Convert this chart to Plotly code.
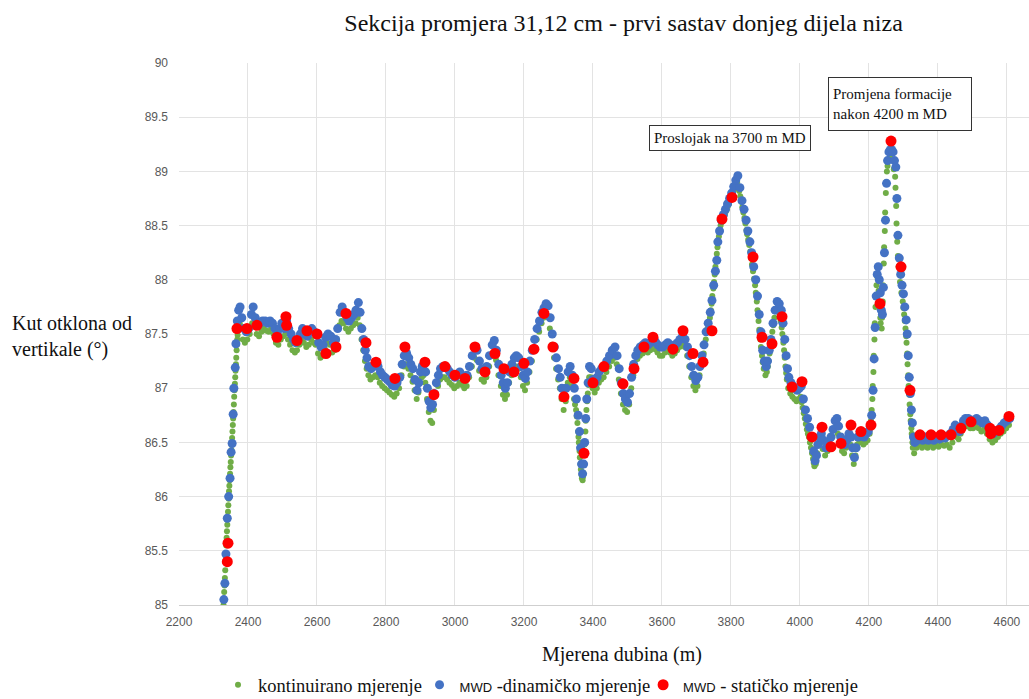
import plotly.graph_objects as go

# Continuous inclination log (depth m, inclination deg)
cont_depth = [
    2329, 2330, 2331, 2332, 2333, 2334, 2335, 2336, 2337, 2338, 2339, 2340, 2341, 2342, 2343, 2344,
    2345, 2346, 2347, 2348, 2349, 2350, 2351, 2352, 2353, 2354, 2355, 2356, 2357, 2358, 2359, 2360,
    2361, 2362, 2363, 2364, 2365, 2366, 2367, 2368, 2369, 2370, 2372, 2374, 2376, 2380, 2385, 2391,
    2398, 2405, 2412, 2418, 2425, 2432, 2439, 2446, 2453, 2460, 2467, 2474, 2481, 2488, 2495, 2502,
    2509, 2516, 2522, 2529, 2536, 2542, 2549, 2556, 2562, 2569, 2576, 2583, 2590, 2596, 2603, 2610,
    2616, 2623, 2630, 2637, 2644, 2651, 2658, 2665, 2671, 2678, 2684, 2691, 2698, 2705, 2712, 2718,
    2724, 2729, 2734, 2739, 2744, 2749, 2755, 2762, 2769, 2776, 2782, 2789, 2796, 2803, 2810, 2817,
    2824, 2831, 2838, 2845, 2852, 2858, 2865, 2871, 2877, 2883, 2889, 2894, 2899, 2904, 2909, 2914,
    2919, 2924, 2929, 2934, 2939, 2945, 2951, 2957, 2964, 2970, 2977, 2984, 2991, 2998, 3006, 3013,
    3020, 3027, 3034, 3041, 3049, 3056, 3063, 3070, 3077, 3084, 3091, 3099, 3107, 3113, 3119, 3126,
    3133, 3139, 3145, 3151, 3157, 3164, 3171, 3177, 3184, 3191, 3197, 3203, 3209, 3216, 3223, 3230,
    3237, 3244, 3251, 3257, 3263, 3269, 3275, 3281, 3287, 3293, 3299, 3304, 3309, 3315, 3321, 3327,
    3333, 3339, 3345, 3348, 3351, 3353, 3355, 3357, 3358, 3359, 3361, 3362, 3364, 3365, 3367, 3368,
    3370, 3371, 3372, 3373, 3375, 3376, 3378, 3379, 3381, 3383, 3385, 3387, 3389, 3394, 3399, 3405,
    3411, 3417, 3424, 3431, 3439, 3447, 3455, 3463, 3469, 3475, 3481, 3487, 3493, 3499, 3505, 3511,
    3517, 3523, 3529, 3536, 3544, 3551, 3559, 3566, 3573, 3580, 3587, 3594, 3601, 3609, 3616, 3623,
    3630, 3637, 3644, 3651, 3659, 3666, 3673, 3679, 3685, 3691, 3697, 3703, 3709, 3715, 3721, 3727,
    3733, 3739, 3742, 3744, 3746, 3749, 3751, 3753, 3755, 3757, 3759, 3761, 3763, 3765, 3768, 3770,
    3773, 3776, 3779, 3782, 3785, 3788, 3791, 3794, 3797, 3800, 3803, 3806, 3809, 3812, 3815, 3818,
    3821, 3824, 3827, 3830, 3833, 3836, 3839, 3842, 3845, 3847, 3850, 3853, 3856, 3858, 3861, 3864,
    3867, 3870, 3872, 3875, 3877, 3880, 3882, 3885, 3887, 3890, 3892, 3895, 3900, 3904, 3907, 3909,
    3912, 3914, 3917, 3920, 3923, 3926, 3932, 3938, 3944, 3947, 3949, 3952, 3954, 3956, 3958, 3960,
    3962, 3966, 3972, 3978, 3984, 3990, 3996, 4002, 4005, 4008, 4011, 4014, 4017, 4020, 4023, 4026,
    4029, 4032, 4035, 4038, 4040, 4042, 4046, 4050, 4055, 4060, 4066, 4073, 4080, 4088, 4094, 4100,
    4105, 4110, 4116, 4122, 4128, 4134, 4140, 4146, 4151, 4156, 4161, 4166, 4172, 4178, 4184, 4190,
    4196, 4202, 4204, 4206, 4208, 4210, 4211, 4213, 4214, 4216, 4217, 4219, 4220, 4222, 4225, 4228,
    4230, 4231, 4233, 4234, 4237, 4238, 4240, 4241, 4243, 4244, 4246, 4247, 4249, 4250, 4252, 4254,
    4256, 4260, 4264, 4268, 4272, 4276, 4277, 4279, 4280, 4282, 4284, 4286, 4290, 4294, 4298, 4300,
    4302, 4304, 4306, 4308, 4309, 4311, 4312, 4314, 4315, 4317, 4318, 4320, 4321, 4323, 4324, 4326,
    4327, 4331, 4338, 4346, 4354, 4362, 4370, 4378, 4386, 4394, 4402, 4410, 4418, 4426, 4434, 4442,
    4448, 4454, 4460, 4466, 4472, 4478, 4486, 4494, 4502, 4510, 4518, 4526, 4534, 4542, 4550, 4558,
    4566, 4574, 4582, 4590, 4598, 4606,
]
cont_incl = [
    85.00, 85.06, 85.12, 85.18, 85.25, 85.32, 85.40, 85.47, 85.55, 85.62, 85.68, 85.74, 85.80, 85.86, 85.92, 85.98,
    86.05, 86.10, 86.15, 86.21, 86.27, 86.32, 86.38, 86.43, 86.48, 86.54, 86.60, 86.66, 86.72, 86.78, 86.85, 86.92,
    86.98, 87.04, 87.10, 87.16, 87.22, 87.28, 87.35, 87.40, 87.45, 87.49, 87.55, 87.58, 87.60, 87.55, 87.45, 87.42,
    87.45, 87.50, 87.60, 87.58, 87.50, 87.48, 87.52, 87.55, 87.53, 87.52, 87.55, 87.50, 87.42, 87.40, 87.45, 87.48,
    87.50, 87.45, 87.40, 87.35, 87.33, 87.35, 87.40, 87.45, 87.42, 87.38, 87.40, 87.45, 87.42, 87.40, 87.32, 87.28,
    87.30, 87.36, 87.42, 87.40, 87.33, 87.35, 87.45, 87.58, 87.62, 87.60, 87.55, 87.52, 87.55, 87.58, 87.60, 87.65,
    87.58, 87.45, 87.35, 87.25, 87.18, 87.12, 87.08, 87.10, 87.12, 87.10, 87.05, 87.02, 87.00, 86.98, 86.96, 86.94,
    86.92, 86.95, 87.00, 87.12, 87.20, 87.22, 87.18, 87.12, 87.06, 86.98, 86.90, 86.96, 87.05, 87.10, 87.12, 87.05,
    86.90, 86.78, 86.70, 86.68, 86.80, 86.95, 87.02, 87.08, 87.10, 87.10, 87.08, 87.05, 87.03, 87.00, 87.02, 87.05,
    87.03, 87.00, 87.02, 87.10, 87.20, 87.28, 87.26, 87.16, 87.08, 87.06, 87.10, 87.20, 87.30, 87.33, 87.26, 87.12,
    87.02, 86.94, 86.90, 86.94, 87.05, 87.12, 87.18, 87.20, 87.18, 87.10, 87.02, 86.98, 87.05, 87.15, 87.25, 87.35,
    87.45, 87.52, 87.60, 87.65, 87.68, 87.66, 87.55, 87.40, 87.28, 87.18, 87.08, 87.00, 86.90, 86.80, 86.88, 87.05,
    87.10, 87.02, 86.90, 86.85, 86.80, 86.74, 86.68, 86.60, 86.55, 86.50, 86.42, 86.36, 86.30, 86.25, 86.20, 86.17,
    86.15, 86.18, 86.22, 86.30, 86.40, 86.48, 86.60, 86.70, 86.80, 86.88, 86.95, 87.03, 87.10, 87.10, 87.00, 86.96,
    87.00, 87.05, 87.08, 87.10, 87.15, 87.20, 87.25, 87.28, 87.22, 87.08, 86.95, 86.85, 86.80, 86.78, 86.85, 87.00,
    87.12, 87.20, 87.27, 87.30, 87.32, 87.34, 87.33, 87.35, 87.38, 87.36, 87.33, 87.30, 87.30, 87.33, 87.35, 87.33,
    87.30, 87.32, 87.35, 87.38, 87.40, 87.38, 87.30, 87.20, 87.10, 87.02, 86.98, 87.02, 87.12, 87.22, 87.32, 87.45,
    87.55, 87.65, 87.72, 87.78, 87.85, 87.92, 87.98, 88.05, 88.12, 88.18, 88.24, 88.30, 88.35, 88.40, 88.45, 88.50,
    88.53, 88.56, 88.58, 88.60, 88.63, 88.65, 88.68, 88.70, 88.73, 88.75, 88.78, 88.80, 88.83, 88.86, 88.88, 88.90,
    88.86, 88.82, 88.77, 88.72, 88.67, 88.62, 88.57, 88.52, 88.46, 88.42, 88.37, 88.32, 88.26, 88.20, 88.14, 88.08,
    88.01, 87.95, 87.88, 87.80, 87.72, 87.62, 87.54, 87.45, 87.38, 87.30, 87.24, 87.18, 87.12, 87.15, 87.20, 87.25,
    87.32, 87.38, 87.45, 87.52, 87.58, 87.65, 87.72, 87.70, 87.62, 87.56, 87.50, 87.42, 87.35, 87.28, 87.20, 87.14,
    87.08, 87.00, 86.95, 86.92, 86.90, 86.88, 86.90, 86.92, 86.87, 86.82, 86.77, 86.72, 86.67, 86.62, 86.58, 86.55,
    86.50, 86.45, 86.40, 86.35, 86.31, 86.28, 86.30, 86.40, 86.48, 86.50, 86.44, 86.38, 86.42, 86.48, 86.55, 86.62,
    86.65, 86.58, 86.48, 86.42, 86.40, 86.45, 86.50, 86.48, 86.38, 86.30, 86.38, 86.48, 86.52, 86.50, 86.48, 86.50,
    86.52, 86.58, 86.63, 86.70, 86.80, 86.90, 87.02, 87.15, 87.30, 87.45, 87.60, 87.75, 87.85, 87.95, 88.02, 87.90,
    87.80, 87.75, 87.65, 87.60, 87.55, 87.65, 87.80, 87.95, 88.15, 88.30, 88.45, 88.62, 88.80, 88.90, 89.00, 89.05,
    89.10, 89.12, 89.12, 89.10, 89.02, 88.95, 88.85, 88.68, 88.52, 88.35, 88.22, 88.12, 87.98, 87.88, 87.80, 87.74,
    87.68, 87.62, 87.55, 87.48, 87.42, 87.32, 87.22, 87.12, 87.02, 86.94, 86.85, 86.76, 86.70, 86.63, 86.58, 86.50,
    86.45, 86.40, 86.45, 86.48, 86.45, 86.48, 86.45, 86.48, 86.45, 86.48, 86.46, 86.48, 86.47, 86.48, 86.45, 86.50,
    86.58, 86.55, 86.53, 86.58, 86.63, 86.65, 86.65, 86.63, 86.63, 86.65, 86.63, 86.60, 86.62, 86.58, 86.53, 86.50,
    86.52, 86.55, 86.58, 86.60, 86.63, 86.66,
]

# MWD dynamic (while drilling) survey
dyn_depth = [
    2330, 2333, 2336, 2340, 2344, 2348, 2351, 2354, 2357, 2359, 2363, 2365, 2369, 2373, 2377, 2382,
    2388, 2395, 2402, 2410, 2415, 2421, 2428, 2435, 2442, 2450, 2457, 2464, 2471, 2478, 2485, 2492,
    2498, 2505, 2512, 2518, 2525, 2532, 2538, 2545, 2552, 2558, 2565, 2572, 2578, 2585, 2592, 2598,
    2605, 2612, 2618, 2625, 2632, 2640, 2647, 2654, 2660, 2667, 2673, 2680, 2687, 2693, 2700, 2707,
    2713, 2720, 2725, 2730, 2735, 2740, 2745, 2750, 2757, 2763, 2770, 2777, 2784, 2790, 2797, 2804,
    2811, 2818, 2825, 2832, 2840, 2847, 2853, 2860, 2866, 2872, 2878, 2884, 2890, 2895, 2900, 2905,
    2910, 2915, 2920, 2925, 2930, 2935, 2940, 2946, 2952, 2958, 2965, 2971, 2978, 2985, 2992, 3000,
    3007, 3014, 3021, 3028, 3035, 3042, 3050, 3057, 3064, 3071, 3078, 3085, 3092, 3100, 3108, 3114,
    3120, 3127, 3134, 3140, 3146, 3152, 3158, 3165, 3172, 3178, 3185, 3192, 3198, 3204, 3210, 3217,
    3224, 3231, 3238, 3245, 3252, 3258, 3264, 3270, 3276, 3282, 3288, 3294, 3300, 3305, 3310, 3316,
    3322, 3328, 3334, 3340, 3346, 3352, 3357, 3361, 3364, 3367, 3370, 3373, 3376, 3379, 3382, 3386,
    3390, 3395, 3400, 3406, 3412, 3418, 3425, 3432, 3440, 3448, 3456, 3464, 3470, 3476, 3482, 3488,
    3494, 3500, 3506, 3512, 3518, 3524, 3530, 3537, 3545, 3552, 3560, 3567, 3574, 3581, 3588, 3595,
    3602, 3610, 3617, 3624, 3631, 3638, 3645, 3652, 3660, 3667, 3674, 3680, 3686, 3692, 3698, 3704,
    3710, 3716, 3722, 3728, 3734, 3740, 3745, 3750, 3755, 3759, 3762, 3767, 3772, 3778, 3784, 3790,
    3796, 3802, 3808, 3814, 3820, 3826, 3832, 3838, 3844, 3849, 3855, 3860, 3866, 3872, 3877, 3882,
    3887, 3892, 3897, 3902, 3906, 3911, 3916, 3922, 3928, 3934, 3940, 3946, 3951, 3956, 3960, 3964,
    3968, 3974, 3980, 3986, 3992, 3998, 4004, 4010, 4016, 4022, 4028, 4034, 4040, 4044, 4048, 4052,
    4057, 4062, 4068, 4075, 4082, 4090, 4096, 4102, 4107, 4112, 4118, 4124, 4130, 4136, 4142, 4148,
    4153, 4158, 4163, 4168, 4174, 4180, 4186, 4192, 4198, 4204, 4208, 4212, 4215, 4218, 4221, 4224,
    4227, 4230, 4233, 4236, 4239, 4242, 4245, 4248, 4251, 4254, 4258, 4262, 4266, 4270, 4274, 4278,
    4281, 4284, 4288, 4292, 4296, 4300, 4304, 4308, 4311, 4314, 4317, 4320, 4323, 4326, 4329, 4333,
    4340, 4348, 4356, 4364, 4372, 4380, 4388, 4396, 4404, 4412, 4420, 4428, 4436, 4444, 4450, 4456,
    4462, 4468, 4474, 4480, 4488, 4496, 4504, 4512, 4520, 4528, 4536, 4544, 4552, 4560, 4568, 4576,
    4584, 4592, 4600, 4608,
]
dyn_incl = [
    85.05, 85.20, 85.47, 85.80, 86.00, 86.17, 86.41, 86.49, 86.76, 87.00, 87.19, 87.41, 87.62, 87.72, 87.75, 87.65,
    87.55, 87.52, 87.55, 87.68, 87.75, 87.65, 87.58, 87.60, 87.62, 87.62, 87.60, 87.62, 87.60, 87.55, 87.50, 87.55,
    87.60, 87.55, 87.62, 87.55, 87.50, 87.45, 87.42, 87.45, 87.50, 87.55, 87.50, 87.48, 87.52, 87.55, 87.52, 87.50,
    87.42, 87.38, 87.40, 87.47, 87.50, 87.48, 87.42, 87.45, 87.55, 87.70, 87.75, 87.70, 87.65, 87.62, 87.65, 87.68,
    87.72, 87.79, 87.70, 87.55, 87.45, 87.35, 87.28, 87.20, 87.18, 87.20, 87.22, 87.20, 87.15, 87.12, 87.10, 87.08,
    87.06, 87.03, 87.02, 87.05, 87.10, 87.22, 87.30, 87.32, 87.28, 87.22, 87.18, 87.08, 86.98, 87.05, 87.15, 87.20,
    87.22, 87.15, 87.00, 86.88, 86.82, 86.85, 86.95, 87.05, 87.12, 87.18, 87.20, 87.20, 87.18, 87.15, 87.12, 87.10,
    87.12, 87.15, 87.12, 87.10, 87.12, 87.20, 87.30, 87.38, 87.35, 87.25, 87.18, 87.15, 87.20, 87.30, 87.40, 87.44,
    87.35, 87.22, 87.12, 87.05, 87.00, 87.05, 87.15, 87.22, 87.28, 87.30, 87.28, 87.20, 87.12, 87.09, 87.15, 87.25,
    87.35, 87.45, 87.55, 87.62, 87.70, 87.74, 87.78, 87.76, 87.65, 87.50, 87.38, 87.28, 87.18, 87.10, 87.00, 86.92,
    87.00, 87.15, 87.20, 87.12, 87.00, 86.90, 86.75, 86.60, 86.45, 86.30, 86.21, 86.30, 86.50, 86.72, 86.90, 87.05,
    87.20, 87.18, 87.08, 87.05, 87.10, 87.15, 87.18, 87.20, 87.25, 87.30, 87.35, 87.38, 87.30, 87.18, 87.05, 86.95,
    86.90, 86.87, 86.95, 87.10, 87.22, 87.30, 87.35, 87.38, 87.40, 87.42, 87.40, 87.42, 87.45, 87.43, 87.40, 87.38,
    87.38, 87.40, 87.42, 87.40, 87.38, 87.40, 87.42, 87.45, 87.48, 87.45, 87.38, 87.30, 87.20, 87.12, 87.07, 87.10,
    87.20, 87.30, 87.40, 87.52, 87.60, 87.70, 87.81, 87.95, 88.08, 88.18, 88.35, 88.45, 88.55, 88.60, 88.65, 88.70,
    88.75, 88.80, 88.86, 88.92, 88.96, 88.85, 88.73, 88.65, 88.55, 88.45, 88.35, 88.25, 88.12, 88.00, 87.85, 87.68,
    87.52, 87.35, 87.25, 87.20, 87.25, 87.35, 87.45, 87.60, 87.72, 87.80, 87.78, 87.72, 87.60, 87.45, 87.30, 87.18,
    87.10, 87.05, 87.02, 87.00, 86.98, 87.00, 87.02, 86.90, 86.80, 86.72, 86.64, 86.55, 86.42, 86.33, 86.38, 86.48,
    86.55, 86.58, 86.52, 86.45, 86.50, 86.55, 86.62, 86.70, 86.72, 86.65, 86.55, 86.50, 86.48, 86.52, 86.58, 86.55,
    86.45, 86.36, 86.45, 86.55, 86.60, 86.58, 86.55, 86.58, 86.60, 86.65, 86.75, 86.98, 87.27, 87.56, 87.85, 88.05,
    88.12, 88.00, 87.88, 87.72, 87.68, 87.93, 88.25, 88.55, 88.89, 89.10, 89.18, 89.20, 89.20, 89.18, 89.10, 89.04,
    88.75, 88.41, 88.20, 88.05, 87.95, 87.87, 87.75, 87.63, 87.50, 87.30, 87.10, 86.95, 86.80, 86.68, 86.55, 86.50,
    86.52, 86.55, 86.52, 86.55, 86.52, 86.55, 86.52, 86.55, 86.53, 86.55, 86.54, 86.56, 86.58, 86.62, 86.66, 86.62,
    86.60, 86.65, 86.70, 86.72, 86.72, 86.70, 86.70, 86.72, 86.70, 86.68, 86.70, 86.66, 86.60, 86.58, 86.60, 86.62,
    86.65, 86.68, 86.70, 86.72,
]

# MWD static (stationary) survey
stat_depth = [
    2340, 2342, 2368, 2397, 2426, 2484, 2510, 2512, 2542, 2571, 2600, 2626, 2655, 2684, 2742, 2771,
    2826, 2855, 2913, 2939, 2971, 3000, 3029, 3058, 3087, 3116, 3142, 3171, 3200, 3229, 3258, 3284,
    3316, 3345, 3374, 3400, 3432, 3487, 3519, 3548, 3574, 3632, 3661, 3690, 3719, 3745, 3774, 3803,
    3864, 3890, 3919, 3948, 3977, 4006, 4035, 4064, 4090, 4119, 4148, 4177, 4206, 4232, 4264, 4293,
    4319, 4348, 4380, 4409, 4438, 4467, 4496, 4551, 4553, 4577, 4606,
]
stat_incl = [
    85.40, 85.57, 87.55, 87.55, 87.58, 87.47, 87.66, 87.58, 87.44, 87.53, 87.50, 87.32, 87.38, 87.69, 87.42, 87.24,
    87.09, 87.38, 87.24, 86.94, 87.20, 87.12, 87.09, 87.38, 87.15, 87.32, 87.18, 87.15, 87.23, 87.36, 87.69, 87.38,
    86.92, 87.09, 86.40, 87.05, 87.20, 87.04, 87.18, 87.38, 87.47, 87.36, 87.53, 87.32, 87.24, 87.53, 88.56, 88.76,
    88.21, 87.47, 87.41, 87.66, 87.01, 87.06, 86.55, 86.64, 86.46, 86.49, 86.66, 86.60, 86.66, 87.78, 89.28, 88.12,
    86.98, 86.57, 86.57, 86.57, 86.57, 86.63, 86.69, 86.63, 86.58, 86.61, 86.74,
]

x_ticks = [2200, 2400, 2600, 2800, 3000, 3200, 3400, 3600, 3800, 4000, 4200, 4400, 4600]
y_ticks = [85, 85.5, 86, 86.5, 87, 87.5, 88, 88.5, 89, 89.5, 90]
y_tick_text = ["85", "85.5", "86", "86.5", "87", "87.5", "88", "88.5", "89", "89.5", "90"]

SERIF = "Liberation Serif"
SANS = "Liberation Sans"
TEXT = "#111111"
MWD = f'<span style="font-family:{SANS};font-size:13px">MWD</span>'

fig = go.Figure()
fig.add_trace(go.Scatter(
    x=cont_depth, y=cont_incl, mode="markers", name="kontinuirano mjerenje",
    marker=dict(color="#70AD47", size=6), legend="legend",
))
fig.add_trace(go.Scatter(
    x=dyn_depth, y=dyn_incl, mode="markers", name=f"{MWD} -dinamičko mjerenje",
    marker=dict(color="#4472C4", size=9), legend="legend2",
))
fig.add_trace(go.Scatter(
    x=stat_depth, y=stat_incl, mode="markers", name=f"{MWD} - statičko mjerenje",
    marker=dict(color="#FF0000", size=11), legend="legend3",
))

legend_style = dict(
    orientation="h", xanchor="left", y=-0.148, yanchor="middle",
    font=dict(family=SERIF, size=18.5, color=TEXT), itemsizing="trace",
    bgcolor="rgba(0,0,0,0)",
)

fig.update_layout(
    width=1029, height=699,
    margin=dict(l=179, r=0, t=63, b=94, autoexpand=False),
    paper_bgcolor="white", plot_bgcolor="white",
    title=dict(
        text="Sekcija promjera 31,12 cm - prvi sastav donjeg dijela niza",
        x=0.606, xanchor="center", xref="container",
        y=0.967, yanchor="middle", yref="container",
        font=dict(family=SERIF, size=24, color=TEXT),
    ),
    xaxis=dict(
        range=[2200, 4664], tickvals=x_ticks, showgrid=True, gridcolor="#E3E3E3", gridwidth=1,
        showline=True, linecolor="#CFCFCF", linewidth=1, zeroline=False,
        tickfont=dict(family=SANS, size=12, color="#595959"), ticks="", ticklabelstandoff=6,
    ),
    yaxis=dict(
        range=[85, 90], tickvals=y_ticks, ticktext=y_tick_text, showgrid=True, gridcolor="#E3E3E3",
        gridwidth=1, showline=False, zeroline=False,
        tickfont=dict(family=SANS, size=12, color="#595959"), ticks="", ticklabelstandoff=10,
    ),
    showlegend=True,
    legend=dict(x=0.0459, **legend_style),
    legend2=dict(x=0.283, **legend_style),
    legend3=dict(x=0.546, **legend_style),
    annotations=[
        dict(text="Mjerena dubina (m)", xref="paper", yref="paper", x=0.521, y=-0.092,
             xanchor="center", yanchor="middle", showarrow=False,
             font=dict(family=SERIF, size=20, color=TEXT)),
        dict(text="Kut otklona od<br>vertikale (°)", xref="paper", yref="paper", x=-0.199, y=0.496,
             xanchor="left", yanchor="middle", align="left", showarrow=False,
             font=dict(family=SERIF, size=20, color=TEXT)),
        dict(text="Proslojak na 3700 m MD", xref="x", yref="y", x=3797, y=89.31,
             xanchor="center", yanchor="middle", showarrow=False, bgcolor="white",
             bordercolor="#333333", borderwidth=1, borderpad=4,
             font=dict(family=SERIF, size=15, color=TEXT)),
        dict(text="Promjena formacije<br>nakon 4200 m MD", xref="x", yref="y", x=4291, y=89.62,
             xanchor="center", yanchor="middle", align="left", valign="middle",
             width=134, height=44, showarrow=False, bgcolor="white",
             bordercolor="#333333", borderwidth=1, borderpad=4,
             font=dict(family=SERIF, size=15, color=TEXT)),
    ],
)

fig.write_html("out.html")
